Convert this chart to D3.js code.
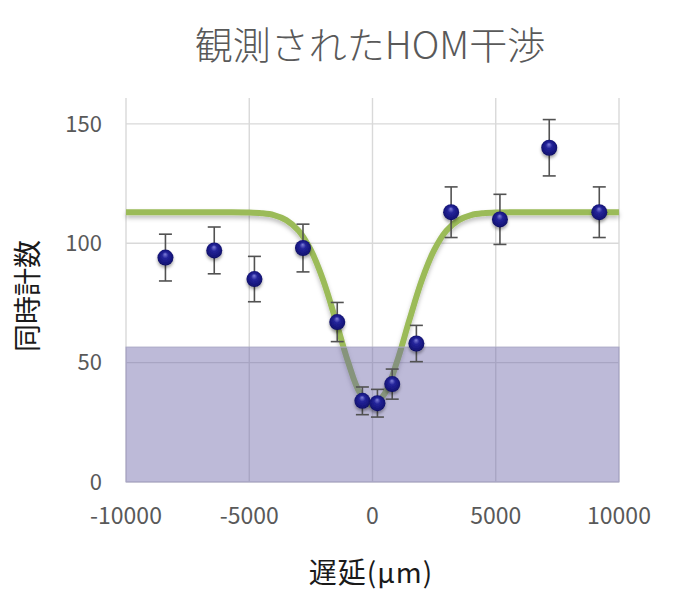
<!DOCTYPE html>
<html>
<head>
<meta charset="utf-8">
<script src="https://cdn.jsdelivr.net/npm/d3@7"></script>
<style>
  html, body { margin: 0; padding: 0; background: #fff; }
  svg { display: block; font-family: "Noto Sans CJK JP", "Noto Sans", sans-serif; }
</style>
</head>
<body>
<svg id="chart" width="678" height="604"></svg>
<script>
// ---- data ----
const title = "観測されたHOM干渉";
const xTitle = "遅延(μm)";
const yTitle = "同時計数";
const delays = [-8400, -6420, -4790, -2820, -1430, -410, 200, 800, 1780, 3190, 5170, 7170, 9200];
const counts = [94, 97, 85, 98, 67, 34, 33, 41, 58, 113, 110, 140, 113];
const errors = [9.8, 9.8, 9.5, 10, 8.2, 5.8, 5.8, 6.3, 7.6, 10.6, 10.5, 11.8, 10.6];
const fitX = [-10000, -6000, -5000, -4500, -4000, -3500, -3000, -2500, -2000, -1500, -1000, -500, 0,
              500, 1000, 1500, 2000, 2500, 3000, 3500, 4000, 4500, 5000, 6000, 10000];
const fitY = [113, 113, 112.9, 112.6, 111.8, 109.7, 105.3, 97.1, 84.5, 68.0, 50.6, 37.1, 32,
              37.1, 50.6, 68.0, 84.5, 97.1, 105.3, 109.7, 111.8, 112.6, 112.9, 113, 113];
const classicalLimit = 56.5;
const xTicks = [-10000, -5000, 0, 5000, 10000];
const yTicks = [0, 50, 100, 150];
const xDomain = [-10000, 10000];
const yDomain = [0, 160];

// ---- layout ----
const svg = d3.select("#chart");
const W = 678, H = 604;
const m = { left: 126, right: 59, top: 100, bottom: 122 };
const x = d3.scaleLinear().domain(xDomain).range([m.left, W - m.right]);
const y = d3.scaleLinear().domain(yDomain).range([H - m.bottom, m.top]);

const defs = svg.append("defs");
const grad = defs.append("radialGradient").attr("id", "ball")
  .attr("cx", "50%").attr("cy", "50%").attr("r", "55%")
  .attr("fx", "48%").attr("fy", "28%");
grad.append("stop").attr("offset", "0%").attr("stop-color", "#8080da");
grad.append("stop").attr("offset", "35%").attr("stop-color", "#24249a");
grad.append("stop").attr("offset", "80%").attr("stop-color", "#15157a");
grad.append("stop").attr("offset", "100%").attr("stop-color", "#0a0a50");
const sh = defs.append("filter").attr("id", "shadow")
  .attr("x", "-50%").attr("y", "-50%").attr("width", "200%").attr("height", "200%");
sh.append("feDropShadow").attr("dx", 0).attr("dy", 2.5).attr("stdDeviation", 1.6)
  .attr("flood-color", "#000").attr("flood-opacity", 0.35);
const shl = defs.append("filter").attr("id", "lshadow")
  .attr("x", "-10%").attr("y", "-10%").attr("width", "120%").attr("height", "130%");
shl.append("feDropShadow").attr("dx", 0).attr("dy", 3).attr("stdDeviation", 2)
  .attr("flood-color", "#000").attr("flood-opacity", 0.25);

// gridlines
const grid = svg.append("g");
grid.selectAll("line.h").data(yTicks).join("line")
  .attr("x1", x(xDomain[0])).attr("x2", x(xDomain[1]))
  .attr("y1", d => y(d)).attr("y2", d => y(d))
  .attr("stroke", "#d9d9d9").attr("stroke-width", 1.4);
grid.selectAll("line.v").data(xTicks).join("line")
  .attr("y1", y(yDomain[0])).attr("y2", y(yDomain[1]) - 2)
  .attr("x1", d => x(d)).attr("x2", d => x(d))
  .attr("stroke", "#d9d9d9").attr("stroke-width", 1.4);

// fit curve
const fitData = fitX.map((v, i) => [v, fitY[i]]);
svg.append("path").datum(fitData)
  .attr("d", d3.line().x(d => x(d[0])).y(d => y(d[1])).curve(d3.curveCatmullRom.alpha(0.5)))
  .attr("fill", "none").attr("stroke", "#9bbb59").attr("stroke-width", 6)
  .attr("stroke-linejoin", "round").attr("filter", "url(#lshadow)");

// classical limit band
svg.append("rect")
  .attr("x", x(xDomain[0])).attr("width", x(xDomain[1]) - x(xDomain[0]))
  .attr("y", y(classicalLimit)).attr("height", y(0) - y(classicalLimit))
  .attr("fill", "rgb(108,102,168)").attr("fill-opacity", 0.45)
  .attr("stroke", "#a9a6c6").attr("stroke-width", 1);

// error bars
const eb = svg.append("g").attr("stroke", "#525252").attr("stroke-width", 1.6).attr("fill", "none");
const pts = delays.map((d, i) => ({ x: d, y: counts[i], e: errors[i] }));
pts.forEach(p => {
  const cx = x(p.x), y1 = y(p.y + p.e), y2 = y(p.y - p.e);
  eb.append("line").attr("x1", cx).attr("x2", cx).attr("y1", y1).attr("y2", y2);
  eb.append("line").attr("x1", cx - 6.5).attr("x2", cx + 6.5).attr("y1", y1).attr("y2", y1);
  eb.append("line").attr("x1", cx - 6.5).attr("x2", cx + 6.5).attr("y1", y2).attr("y2", y2);
});

// points
svg.append("g").selectAll("circle").data(pts).join("circle")
  .attr("cx", d => x(d.x)).attr("cy", d => y(d.y)).attr("r", 8)
  .attr("fill", "url(#ball)").attr("filter", "url(#shadow)");

// axes labels
svg.append("g").selectAll("text").data(yTicks).join("text")
  .attr("x", 102).attr("y", d => y(d)).attr("dy", "0.35em")
  .attr("text-anchor", "end").attr("fill", "#595959").attr("font-size", 22)
  .text(d => d);
svg.append("g").selectAll("text").data(xTicks).join("text")
  .attr("x", d => x(d)).attr("y", 524)
  .attr("text-anchor", "middle").attr("fill", "#595959").attr("font-size", 23)
  .text(d => d);

// titles
svg.append("text").attr("x", 370).attr("y", 59).attr("text-anchor", "middle")
  .attr("fill", "#595959").attr("font-size", 38).attr("font-weight", 300).text(title);
svg.append("text").attr("x", 371).attr("y", 583).attr("text-anchor", "middle")
  .attr("fill", "#1a1a1a").attr("font-size", 28).attr("letter-spacing", 1).text(xTitle);
svg.append("text").attr("transform", "translate(38,296) rotate(-90)")
  .attr("text-anchor", "middle").attr("fill", "#1a1a1a").attr("font-size", 28).text(yTitle);
</script>
</body>
</html>
